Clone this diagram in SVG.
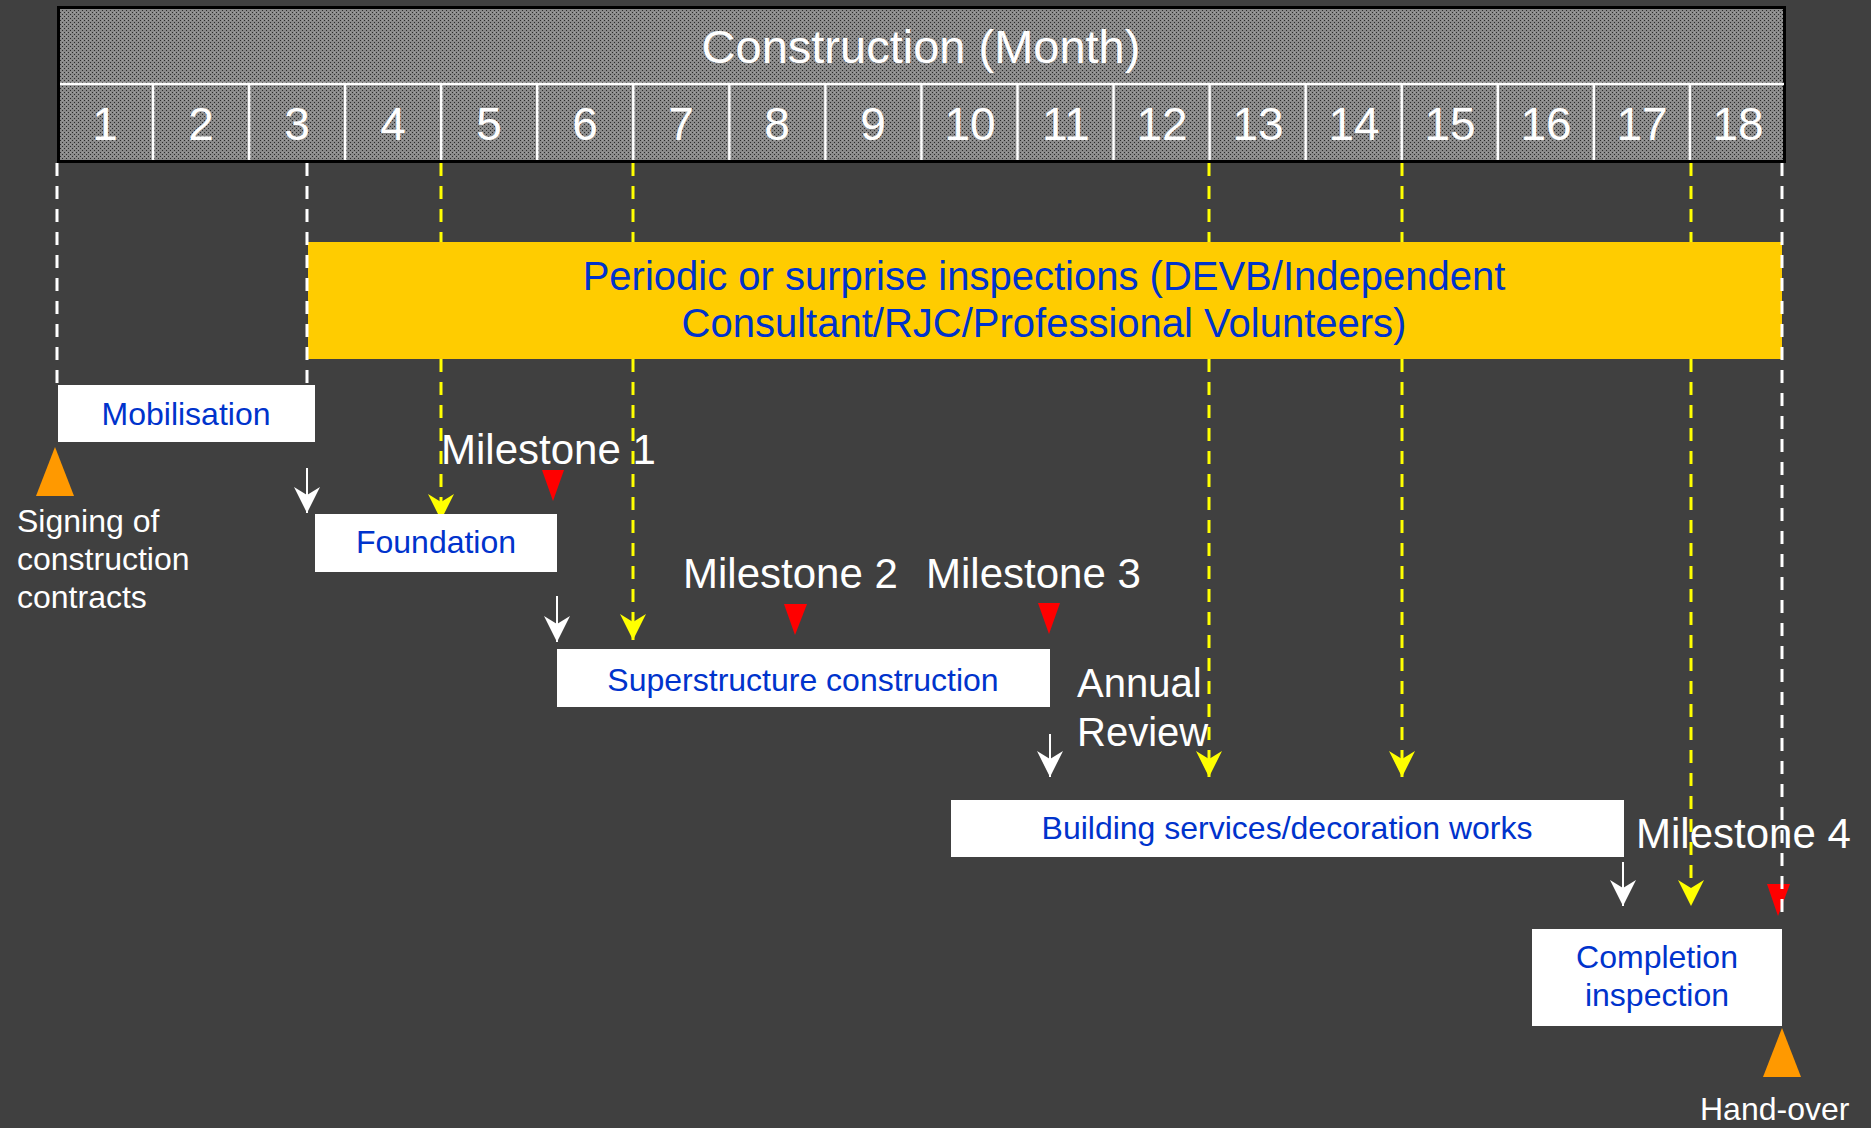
<svg xmlns="http://www.w3.org/2000/svg" width="1871" height="1128" viewBox="0 0 1871 1128">
<style>
  text { font-family: "Liberation Sans", Arial, sans-serif; }
  .hdr { fill: #ffffff; }
  .title { font-size: 47px; text-anchor: middle; }
  .month { font-size: 46px; text-anchor: middle; }
  .div { stroke: #ffffff; stroke-width: 2.5; }
  .box { fill: #ffffff; }
  .boxtxt { fill: #0033cc; font-size: 32px; text-anchor: middle; }
  .bartxt { fill: #0033cc; font-size: 40px; text-anchor: middle; }
  .lbl { fill: #ffffff; font-size: 42px; }
  .lbl2 { fill: #ffffff; font-size: 40px; }
  .small { fill: #ffffff; font-size: 32px; }
  .ms { fill: #ff0000; }
  .evt { fill: #ff9900; }
  .ydash { fill: none; stroke: #ffff00; stroke-width: 3; stroke-dasharray: 13 10; }
  .wdash { fill: none; stroke: #ffffff; stroke-width: 3; stroke-dasharray: 13 10; }
  .warr { fill: none; stroke: #ffffff; stroke-width: 2; marker-end: url(#ah-w); }
</style>
<defs>
  <pattern id="dots" width="4" height="4" patternUnits="userSpaceOnUse">
    <rect width="4" height="4" fill="#8a8a8a"/>
    <rect x="0" y="0" width="1" height="1" fill="#2a2a2a"/>
    <rect x="2" y="2" width="1" height="1" fill="#2a2a2a"/>
    <rect x="2" y="0" width="1" height="1" fill="#a0a0a0"/>
  </pattern>
  <marker id="ah-w" markerUnits="userSpaceOnUse" markerWidth="26" markerHeight="26" viewBox="0 0 26 26" refX="26" refY="13" orient="auto">
    <path d="M0,0 L26,13 L0,26 L8,13 Z" fill="#ffffff"/>
  </marker>
  <marker id="ah-y" markerUnits="userSpaceOnUse" markerWidth="26" markerHeight="26" viewBox="0 0 26 26" refX="26" refY="13" orient="auto">
    <path d="M0,0 L26,13 L0,26 L8,13 Z" fill="#ffff00"/>
  </marker>
</defs>

<rect width="1871" height="1128" fill="#404040"/>

<g id="header">
  <rect x="58.5" y="7.5" width="1726" height="154" fill="url(#dots)" stroke="#000000" stroke-width="3"/>
  <line class="div" x1="60" y1="84" x2="1784" y2="84"/>
  <g class="div">
    <line x1="153.05" y1="84" x2="153.05" y2="160"/>
    <line x1="249.1" y1="84" x2="249.1" y2="160"/>
    <line x1="345.15" y1="84" x2="345.15" y2="160"/>
    <line x1="441.2" y1="84" x2="441.2" y2="160"/>
    <line x1="537.25" y1="84" x2="537.25" y2="160"/>
    <line x1="633.3" y1="84" x2="633.3" y2="160"/>
    <line x1="729.35" y1="84" x2="729.35" y2="160"/>
    <line x1="825.4" y1="84" x2="825.4" y2="160"/>
    <line x1="921.45" y1="84" x2="921.45" y2="160"/>
    <line x1="1017.5" y1="84" x2="1017.5" y2="160"/>
    <line x1="1113.55" y1="84" x2="1113.55" y2="160"/>
    <line x1="1209.6" y1="84" x2="1209.6" y2="160"/>
    <line x1="1305.65" y1="84" x2="1305.65" y2="160"/>
    <line x1="1401.7" y1="84" x2="1401.7" y2="160"/>
    <line x1="1497.75" y1="84" x2="1497.75" y2="160"/>
    <line x1="1593.8" y1="84" x2="1593.8" y2="160"/>
    <line x1="1689.85" y1="84" x2="1689.85" y2="160"/>
  </g>
  <text class="hdr title" x="921" y="63">Construction (Month)</text>
  <g class="hdr month">
    <text x="105" y="140">1</text>
    <text x="201" y="140">2</text>
    <text x="297" y="140">3</text>
    <text x="393" y="140">4</text>
    <text x="489" y="140">5</text>
    <text x="585" y="140">6</text>
    <text x="681" y="140">7</text>
    <text x="777" y="140">8</text>
    <text x="873" y="140">9</text>
    <text x="970" y="140">10</text>
    <text x="1066" y="140">11</text>
    <text x="1162" y="140">12</text>
    <text x="1258" y="140">13</text>
    <text x="1354" y="140">14</text>
    <text x="1450" y="140">15</text>
    <text x="1546" y="140">16</text>
    <text x="1642" y="140">17</text>
    <text x="1738" y="140">18</text>
  </g>
</g>

<g id="inspections">
  <rect x="308" y="242" width="1474" height="117" fill="#ffcc00"/>
  <text class="bartxt" x="1044" y="290">Periodic or surprise inspections (DEVB/Independent</text>
  <text class="bartxt" x="1044" y="337">Consultant/RJC/Professional Volunteers)</text>
</g>

<g id="milestone-1">
  <text class="lbl" x="441" y="464">Milestone 1</text>
  <polygon class="ms" points="542,470 564,470 553,501"/>
</g>
<g id="milestone-2">
  <text class="lbl" x="683" y="588">Milestone 2</text>
  <polygon class="ms" points="784,604 807,604 795,635"/>
</g>
<g id="milestone-3">
  <text class="lbl" x="926" y="588">Milestone 3</text>
  <polygon class="ms" points="1038,603 1060,603 1049,634"/>
</g>
<g id="annual-review">
  <text class="lbl2" x="1077" y="697">Annual</text>
  <text class="lbl2" x="1077" y="746">Review</text>
</g>
<g id="milestone-4">
  <text class="lbl" x="1636" y="848">Milestone 4</text>
  <polygon class="ms" points="1767,884 1790,884 1778,916"/>
</g>

<g id="connectors">
  <path class="wdash" d="M57,163 V384"/>
  <path class="wdash" d="M307,163 V384"/>
  <path class="wdash" d="M1782,163 V916"/>
  <path class="ydash" d="M441,163 V242"/>
  <path class="ydash" d="M441,359 V520" marker-end="url(#ah-y)"/>
  <path class="ydash" d="M633,163 V242"/>
  <path class="ydash" d="M633,359 V640" marker-end="url(#ah-y)"/>
  <path class="ydash" d="M1209,163 V242"/>
  <path class="ydash" d="M1209,359 V777" marker-end="url(#ah-y)"/>
  <path class="ydash" d="M1402,163 V242"/>
  <path class="ydash" d="M1402,359 V777" marker-end="url(#ah-y)"/>
  <path class="ydash" d="M1691,163 V242"/>
  <path class="ydash" d="M1691,359 V906" marker-end="url(#ah-y)"/>
  <path class="warr" d="M307,468 V513"/>
  <path class="warr" d="M557,596 V642"/>
  <path class="warr" d="M1050,734 V777"/>
  <path class="warr" d="M1623,862 V906"/>
</g>

<g id="mobilisation">
  <rect class="box" x="58" y="385" width="257" height="57"/>
  <text class="boxtxt" x="186" y="425">Mobilisation</text>
</g>
<g id="foundation">
  <rect class="box" x="315" y="514" width="242" height="58"/>
  <text class="boxtxt" x="436" y="553">Foundation</text>
</g>
<g id="superstructure">
  <rect class="box" x="557" y="649" width="493" height="58"/>
  <text class="boxtxt" x="803" y="691">Superstructure construction</text>
</g>
<g id="building-services">
  <rect class="box" x="951" y="800" width="673" height="57"/>
  <text class="boxtxt" x="1287" y="839">Building services/decoration works</text>
</g>
<g id="completion-inspection">
  <rect class="box" x="1532" y="929" width="250" height="97"/>
  <text class="boxtxt" x="1657" y="968">Completion</text>
  <text class="boxtxt" x="1657" y="1006">inspection</text>
</g>

<g id="signing">
  <polygon class="evt" points="55,447 36,496 74,496"/>
  <text class="small" x="17" y="532">Signing of</text>
  <text class="small" x="17" y="570">construction</text>
  <text class="small" x="17" y="608">contracts</text>
</g>
<g id="handover">
  <polygon class="evt" points="1782,1028 1763,1077 1801,1077"/>
  <text class="small" x="1700" y="1120">Hand-over</text>
</g>
</svg>
